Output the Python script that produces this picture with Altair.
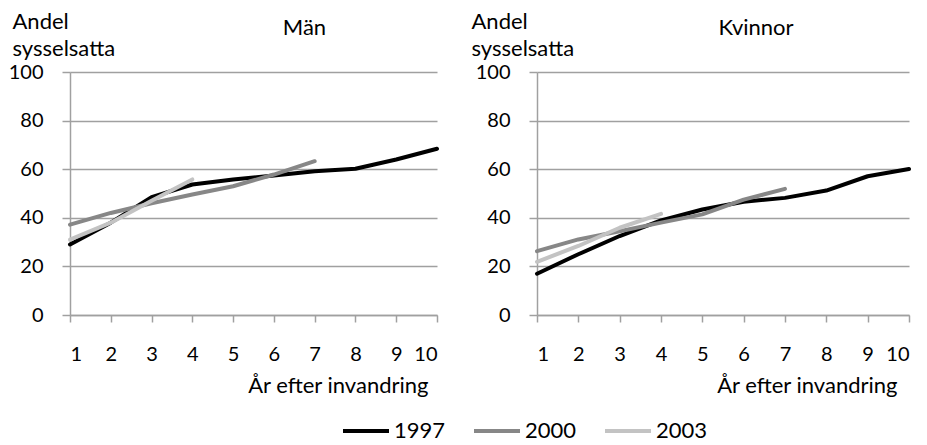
import altair as alt
import pandas as pd

years_after = [1, 2, 3, 4, 5, 6, 7, 8, 9, 10]
cohorts = ["1997", "2000", "2003"]

men_1997 = [29, 38, 48.5, 53.7, 55.8, 57.4, 59.2, 60.2, 64, 68.4]
men_2000 = [37.2, 42, 46, 49.6, 53, 57.8, 63.3]
men_2003 = [31, 38, 47, 55.8]

women_1997 = [17, 25, 32.5, 38.9, 43.4, 46.6, 48.2, 51.2, 57.1, 60.1]
women_2000 = [26.3, 31.1, 34.5, 38, 41.4, 47.5, 51.9]
women_2003 = [21.9, 28.4, 35.9, 41.6]

y_ticks = [0, 20, 40, 60, 80, 100]
colors = ["#000000", "#878787", "#c3c3c3"]

FONT = "Lato"
FS = 20
TFS = 22


def frame(series):
    rows = []
    for cohort, vals in zip(cohorts, series):
        for x, v in zip(years_after, vals):
            rows.append({"cohort": cohort, "year": x, "value": v})
    return pd.DataFrame(rows)


def panel(df, title, width, title_dx, xtitle_x, ytitle_x, show_legend):
    color = alt.Color(
        "cohort:N",
        scale=alt.Scale(domain=cohorts, range=colors),
        legend=alt.Legend(
            title=None,
            orient="none",
            direction="horizontal",
            legendX=271,
            legendY=334,
            symbolType="stroke",
            symbolSize=2116,
            symbolStrokeWidth=4,
            labelFont=FONT,
            labelFontSize=TFS,
            labelColor="#000000",
            labelOffset=3,
            columnPadding=20,
        ) if show_legend else None,
    )
    return alt.Chart(df).mark_line(strokeWidth=4, strokeCap="round", strokeJoin="round").encode(
        x=alt.X(
            "year:Q",
            scale=alt.Scale(domain=[1, 10], nice=False, zero=False),
            axis=alt.Axis(
                values=years_after,
                title="År efter invandring",
                titleAnchor="end",
                titleAlign="right",
                titleX=xtitle_x,
                titleY=77,
                titleBaseline="alphabetic",
                grid=False,
                tickSize=7,
                labelPadding=22,
                format="d",
            ),
        ),
        y=alt.Y(
            "value:Q",
            scale=alt.Scale(domain=[0, 100], nice=False),
            axis=alt.Axis(
                values=y_ticks,
                title=["Andel", "sysselsatta"],
                titleAngle=0,
                titleAlign="left",
                titleBaseline="top",
                titleX=ytitle_x,
                titleY=-61,
                titleLineHeight=27,
                tickSize=8,
                labelPadding=19,
                grid=True,
            ),
        ),
        color=color,
    ).properties(
        width=width,
        height=243,
        title=alt.TitleParams(
            title,
            anchor="middle",
            frame="group",
            dx=title_dx,
            dy=51,
            baseline="alphabetic",
            font=FONT,
            fontSize=TFS,
            fontWeight="normal",
            color="#000000",
        ),
    )


left = panel(frame([men_1997, men_2000, men_2003]), "Män", 367, 51, 358, -58, True)
right = panel(frame([women_1997, women_2000, women_2003]), "Kvinnor", 372, 33, 360, -66, False)

chart = alt.hconcat(left, right, spacing=100, bounds="flush").resolve_scale(color="shared").configure(
    padding={"left": 0, "top": 2, "right": 0, "bottom": 0},
    font=FONT,
).configure_view(stroke=None).configure_axis(
    labelFont=FONT,
    labelFontSize=FS,
    labelColor="#000000",
    titleFont=FONT,
    titleFontSize=TFS,
    titleFontWeight="normal",
    titleColor="#000000",
    domainColor="#a0a0a0",
    domainWidth=1.5,
    tickColor="#a0a0a0",
    tickWidth=1.5,
    gridColor="#a0a0a0",
    gridWidth=1.5,
)

chart.save("out.html", embed_options={"renderer": "svg", "actions": False})
